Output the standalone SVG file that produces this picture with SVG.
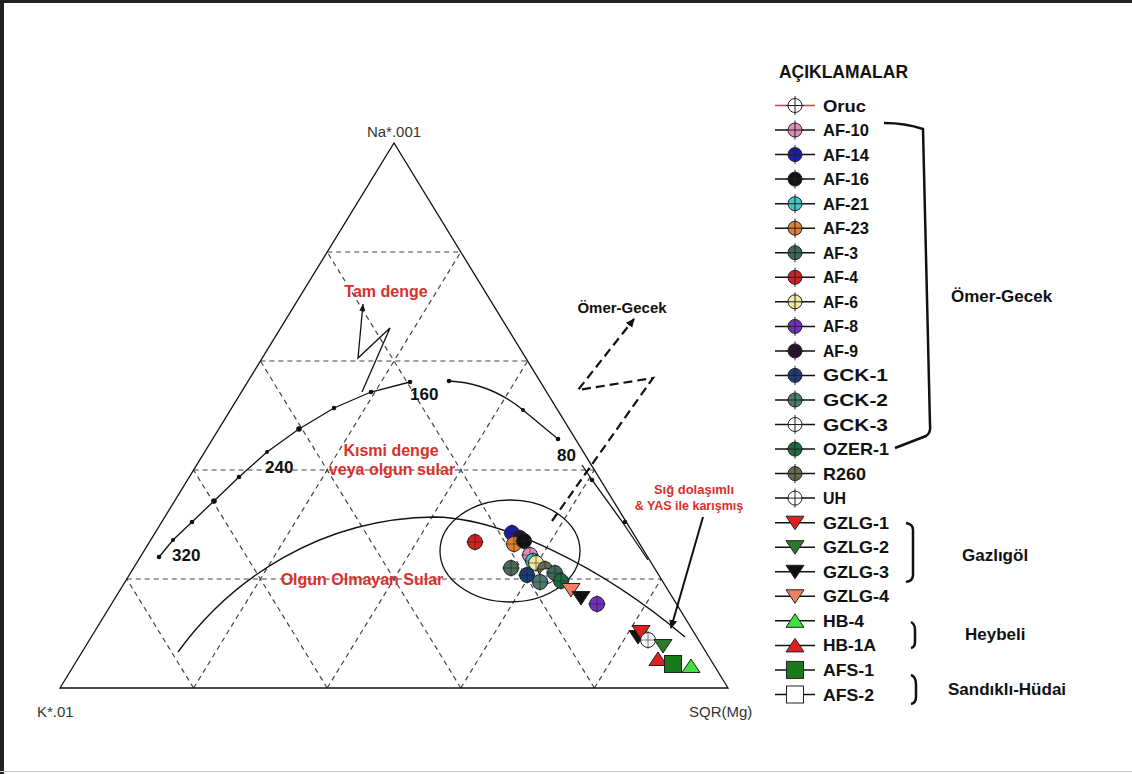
<svg xmlns="http://www.w3.org/2000/svg" xmlns:xlink="http://www.w3.org/1999/xlink" width="1132" height="774" viewBox="0 0 1132 774">
<style>
.grid{fill:none;stroke:#444;stroke-width:1.2;stroke-dasharray:5 4}
.edge{fill:none;stroke:#111;stroke-width:1.3}
.curve{fill:none;stroke:#111;stroke-width:1.3}
.ax{font-family:"Liberation Sans Narrow","Liberation Sans",Arial,sans-serif;font-size:15px;fill:#333}
.red{font-family:"Liberation Sans",Arial,sans-serif;font-weight:bold;font-size:16px;fill:#d9302c;text-anchor:middle}
.num{font-family:"Liberation Sans",Arial,sans-serif;font-weight:bold;font-size:17px;fill:#111}
.lg{font-family:"Liberation Sans Narrow","Liberation Sans",Arial,sans-serif;font-weight:bold;font-size:17px;fill:#111}
.grp{font-family:"Liberation Sans",Arial,sans-serif;font-weight:bold;font-size:17px;fill:#111}
.ll{stroke:#111;stroke-width:1.5}
.mk{stroke:#222;stroke-width:1}
.br{fill:none;stroke:#111;stroke-width:2.5}
.dot{fill:#111}
</style>
<defs>
<g id="circ"><circle r="7" class="mk"/><path d="M0,-9.5V9.5M-9,0H9" class="mk"/></g>
<g id="cplot"><circle r="7.5" class="mk"/><path d="M0,-9V9M-9,0H9" class="mk" stroke-opacity="0.6"/></g>
<path id="tdn" d="M-9,-6.5H9L0,7Z" class="mk"/>
<path id="tup" d="M-9,6.5H9L0,-7Z" class="mk"/>
<rect id="sq" x="-8.5" y="-8.5" width="17" height="17" class="mk"/>
<marker id="ah" markerWidth="10" markerHeight="10" refX="8" refY="5" orient="auto" markerUnits="userSpaceOnUse"><path d="M0,1L9,5L0,9Z" fill="#111"/></marker>
<marker id="ahs" markerWidth="8" markerHeight="8" refX="7" refY="4" orient="auto" markerUnits="userSpaceOnUse"><path d="M0,1L7,4L0,7Z" fill="#111"/></marker>
</defs>
<rect x="0" y="0" width="1132" height="774" fill="#fff"/>
<rect x="0" y="0" width="1132" height="3" fill="#222"/>
<rect x="0" y="0" width="4" height="774" fill="#222"/>
<line x1="0" y1="771.5" x2="1132" y2="771.5" stroke="#ccc" stroke-width="1"/>

<g id="grid">
<path class="grid" d="M126.8,579H661.2M193.6,470H594.4M260.4,361H527.6M327.2,252H460.8"/>
<path class="grid" d="M193.6,688L460.8,252M327.2,688L527.6,361M460.8,688L594.4,470M594.4,688L661.2,579"/>
<path class="grid" d="M594.4,688L327.2,252M460.8,688L260.4,361M327.2,688L193.6,470M193.6,688L126.8,579"/>
</g>
<g id="triangle">
<path class="edge" d="M60,688H728L394,143Z"/>
<text class="ax" x="394" y="137" text-anchor="middle">Na*.001</text>
<text class="ax" x="37" y="717">K*.01</text>
<text class="ax" x="689" y="717">SQR(Mg)</text>
</g>

<g id="equilibrium-curve">
<path class="curve" d="M159,557L173,540L192,522L214,501L239,477L267,452L299,429L334,408L371,392L410,382"/>
<path class="curve" d="M449,381Q490,383 523,410L558,439"/>
<path class="curve" d="M582,465L592,480L621,520L648,560"/>
<g class="dot">
<circle cx="159" cy="557" r="2.3"/><circle cx="173" cy="540" r="2"/><circle cx="192" cy="522" r="2.3"/><circle cx="214" cy="501" r="2.8"/><circle cx="239" cy="477" r="2.3"/><circle cx="267" cy="452" r="2"/><circle cx="299" cy="429" r="2.8"/><circle cx="334" cy="408" r="2.3"/><circle cx="371" cy="392" r="2.3"/><circle cx="410" cy="382" r="2.3"/><circle cx="449" cy="381" r="2.3"/><circle cx="523" cy="410" r="2"/><circle cx="558" cy="439" r="2.3"/><circle cx="592" cy="480" r="2.3"/><circle cx="625" cy="522" r="2.3"/>
</g>
<text class="num" x="172" y="561">320</text>
<text class="num" x="265" y="473">240</text>
<text class="num" x="410" y="400">160</text>
<text class="num" x="557" y="461">80</text>
</g>

<g id="immature-boundary">
<path class="curve" d="M178,652C230,580 320,518 435,517C500,518 600,565 685,637"/>
<ellipse class="curve" cx="510" cy="551" rx="70" ry="51"/>
</g>

<g id="labels">
<text class="red" x="386" y="297">Tam denge</text>
<text class="red" x="391" y="456">Kısmi denge</text>
<text class="red" x="392" y="475">veya olgun sular</text>
<text class="red" x="362" y="585">Olgun Olmayan Sular</text>
<text class="red" x="694" y="494" style="font-size:13px">Sığ dolaşımlı</text>
<text class="red" x="689" y="510" style="font-size:12.5px">&amp; YAS ile karışmış</text>
<text class="grp" x="622" y="313" text-anchor="middle" style="font-size:15px">Ömer-Gecek</text>
</g>

<g id="connectors">
<path d="M362,392L390,328L358,358L363,304" fill="none" stroke="#111" stroke-width="1.3" marker-end="url(#ahs)"/>
<path d="M552,521L653,378L578,390L634,319" fill="none" stroke="#111" stroke-width="2.2" stroke-dasharray="9 5" marker-end="url(#ah)"/>
<path d="M703,517L671,628" fill="none" stroke="#111" stroke-width="2" marker-end="url(#ah)"/>
</g>

<g id="data-points">
<use href="#cplot" x="475" y="542" fill="#d42020"/>
<use href="#cplot" x="511" y="568" fill="#4a6a5a"/>
<use href="#cplot" x="512" y="533" fill="#1c1ca8"/>
<use href="#cplot" x="520" y="538" fill="#2a1030"/>
<use href="#cplot" x="514" y="544" fill="#e08030"/>
<use href="#cplot" x="524" y="541" fill="#111"/>
<use href="#cplot" x="530" y="555" fill="#e090b8"/>
<use href="#cplot" x="533" y="561" fill="#40c8c8"/>
<use href="#cplot" x="536" y="563" fill="#f2eaa0"/>
<use href="#cplot" x="545" y="569" fill="#6a6a50"/>
<use href="#cplot" x="527" y="575" fill="#1c3c78"/>
<use href="#cplot" x="547" y="576" fill="#fff"/>
<use href="#cplot" x="540" y="582" fill="#4a7a70"/>
<use href="#cplot" x="555" y="573" fill="#3a6a5a"/>
<use href="#cplot" x="561" y="581" fill="#1c6a40"/>
<use href="#tdn" x="571" y="590" fill="#f08060"/>
<use href="#tdn" x="581" y="598" fill="#111"/>
<use href="#cplot" x="597" y="604" fill="#7030c0"/>
<use href="#tdn" x="638" y="637" fill="#111"/>
<use href="#tdn" x="641" y="632" fill="#e02020"/>
<use href="#cplot" x="648" y="640" fill="#fff"/>
<use href="#tup" x="658" y="659" fill="#e02020"/>
<use href="#tdn" x="663" y="646" fill="#2a7a2a"/>
<use href="#tup" x="691" y="666" fill="#40e040"/>
<use href="#sq" x="673" y="664" fill="#1a7a1a"/>
</g>

<g id="legend">
<text class="lg" x="779" y="78" textLength="129" lengthAdjust="spacingAndGlyphs" style="font-size:19px">AÇIKLAMALAR</text>
<g id="leg-oruc" transform="translate(0,105.5)"><line class="ll" x1="775" x2="815" style="stroke:#e03a3a"/><use href="#circ" x="795" fill="#fff"/><text class="lg" x="823" y="6" textLength="43" lengthAdjust="spacingAndGlyphs">Oruc</text></g>
<g id="leg-af10" transform="translate(0,130)"><line class="ll" x1="775" x2="815"/><use href="#circ" x="795" fill="#e090b8"/><text class="lg" x="823" y="6" textLength="46" lengthAdjust="spacingAndGlyphs">AF-10</text></g>
<g id="leg-af14" transform="translate(0,154.6)"><line class="ll" x1="775" x2="815"/><use href="#circ" x="795" fill="#1c1ca8"/><text class="lg" x="823" y="6" textLength="46" lengthAdjust="spacingAndGlyphs">AF-14</text></g>
<g id="leg-af16" transform="translate(0,179.1)"><line class="ll" x1="775" x2="815"/><use href="#circ" x="795" fill="#111"/><text class="lg" x="823" y="6" textLength="46" lengthAdjust="spacingAndGlyphs">AF-16</text></g>
<g id="leg-af21" transform="translate(0,203.7)"><line class="ll" x1="775" x2="815"/><use href="#circ" x="795" fill="#40c8c8"/><text class="lg" x="823" y="6" textLength="46" lengthAdjust="spacingAndGlyphs">AF-21</text></g>
<g id="leg-af23" transform="translate(0,228.2)"><line class="ll" x1="775" x2="815"/><use href="#circ" x="795" fill="#e08030"/><text class="lg" x="823" y="6" textLength="46" lengthAdjust="spacingAndGlyphs">AF-23</text></g>
<g id="leg-af3" transform="translate(0,252.7)"><line class="ll" x1="775" x2="815"/><use href="#circ" x="795" fill="#3a6a5a"/><text class="lg" x="823" y="6" textLength="35" lengthAdjust="spacingAndGlyphs">AF-3</text></g>
<g id="leg-af4" transform="translate(0,277.3)"><line class="ll" x1="775" x2="815"/><use href="#circ" x="795" fill="#d42020"/><text class="lg" x="823" y="6" textLength="35" lengthAdjust="spacingAndGlyphs">AF-4</text></g>
<g id="leg-af6" transform="translate(0,301.8)"><line class="ll" x1="775" x2="815"/><use href="#circ" x="795" fill="#f2eaa0"/><text class="lg" x="823" y="6" textLength="35" lengthAdjust="spacingAndGlyphs">AF-6</text></g>
<g id="leg-af8" transform="translate(0,326.4)"><line class="ll" x1="775" x2="815"/><use href="#circ" x="795" fill="#7030c0"/><text class="lg" x="823" y="6" textLength="35" lengthAdjust="spacingAndGlyphs">AF-8</text></g>
<g id="leg-af9" transform="translate(0,350.9)"><line class="ll" x1="775" x2="815"/><use href="#circ" x="795" fill="#2a1030"/><text class="lg" x="823" y="6" textLength="35" lengthAdjust="spacingAndGlyphs">AF-9</text></g>
<g id="leg-gck1" transform="translate(0,375.4)"><line class="ll" x1="775" x2="815"/><use href="#circ" x="795" fill="#1c3c78"/><text class="lg" x="823" y="6" textLength="65" lengthAdjust="spacingAndGlyphs">GCK-1</text></g>
<g id="leg-gck2" transform="translate(0,400)"><line class="ll" x1="775" x2="815"/><use href="#circ" x="795" fill="#4a7a70"/><text class="lg" x="823" y="6" textLength="65" lengthAdjust="spacingAndGlyphs">GCK-2</text></g>
<g id="leg-gck3" transform="translate(0,424.5)"><line class="ll" x1="775" x2="815"/><use href="#circ" x="795" fill="#fff"/><text class="lg" x="823" y="6" textLength="65" lengthAdjust="spacingAndGlyphs">GCK-3</text></g>
<g id="leg-ozer1" transform="translate(0,449.1)"><line class="ll" x1="775" x2="815"/><use href="#circ" x="795" fill="#1c6a40"/><text class="lg" x="823" y="6" textLength="66" lengthAdjust="spacingAndGlyphs">OZER-1</text></g>
<g id="leg-r260" transform="translate(0,473.6)"><line class="ll" x1="775" x2="815"/><use href="#circ" x="795" fill="#6a6a50"/><text class="lg" x="823" y="6" textLength="43" lengthAdjust="spacingAndGlyphs">R260</text></g>
<g id="leg-uh" transform="translate(0,498.1)"><line class="ll" x1="775" x2="815"/><use href="#circ" x="795" fill="#fff"/><text class="lg" x="823" y="6" textLength="23" lengthAdjust="spacingAndGlyphs">UH</text></g>
<g id="leg-gzlg1" transform="translate(0,522.7)"><line class="ll" x1="775" x2="815"/><use href="#tdn" x="795" fill="#e02020"/><text class="lg" x="823" y="6" textLength="66" lengthAdjust="spacingAndGlyphs">GZLG-1</text></g>
<g id="leg-gzlg2" transform="translate(0,547.2)"><line class="ll" x1="775" x2="815"/><use href="#tdn" x="795" fill="#2a7a2a"/><text class="lg" x="823" y="6" textLength="66" lengthAdjust="spacingAndGlyphs">GZLG-2</text></g>
<g id="leg-gzlg3" transform="translate(0,571.8)"><line class="ll" x1="775" x2="815"/><use href="#tdn" x="795" fill="#111"/><text class="lg" x="823" y="6" textLength="66" lengthAdjust="spacingAndGlyphs">GZLG-3</text></g>
<g id="leg-gzlg4" transform="translate(0,596.3)"><line class="ll" x1="775" x2="815"/><use href="#tdn" x="795" fill="#f08060"/><text class="lg" x="823" y="6" textLength="66" lengthAdjust="spacingAndGlyphs">GZLG-4</text></g>
<g id="leg-hb4" transform="translate(0,620.8)"><line class="ll" x1="775" x2="815"/><use href="#tup" x="795" fill="#40e040"/><text class="lg" x="823" y="6" textLength="41" lengthAdjust="spacingAndGlyphs">HB-4</text></g>
<g id="leg-hb1a" transform="translate(0,645.4)"><line class="ll" x1="775" x2="815"/><use href="#tup" x="795" fill="#e02020"/><text class="lg" x="823" y="6" textLength="53" lengthAdjust="spacingAndGlyphs">HB-1A</text></g>
<g id="leg-afs1" transform="translate(0,669.9)"><line class="ll" x1="775" x2="815"/><use href="#sq" x="795" fill="#1a7a1a"/><text class="lg" x="823" y="6" textLength="51" lengthAdjust="spacingAndGlyphs">AFS-1</text></g>
<g id="leg-afs2" transform="translate(0,694.5)"><line class="ll" x1="775" x2="815"/><use href="#sq" x="795" fill="#fff"/><text class="lg" x="823" y="6" textLength="51" lengthAdjust="spacingAndGlyphs">AFS-2</text></g>
</g>

<g id="group-omer-gecek">
<path class="br" d="M884,123Q905,123 923,129L930,425Q931,433 926,436L895,448"/>
<text class="grp" x="951" y="302">Ömer-Gecek</text>
</g>
<g id="group-gazligol">
<path class="br" d="M906,523Q913,524 913,530L913,575Q913,581 906,582"/>
<text class="grp" x="962" y="561">Gazlıgöl</text>
</g>
<g id="group-heybeli">
<path class="br" d="M911,622Q915,624 915,630L915,642Q915,647 911,648"/>
<text class="grp" x="965" y="640">Heybeli</text>
</g>
<g id="group-sandikli">
<path class="br" d="M911,675Q916,677 916,684L916,697Q916,703 911,704"/>
<text class="grp" x="948" y="695">Sandıklı-Hüdai</text>
</g>
</svg>
